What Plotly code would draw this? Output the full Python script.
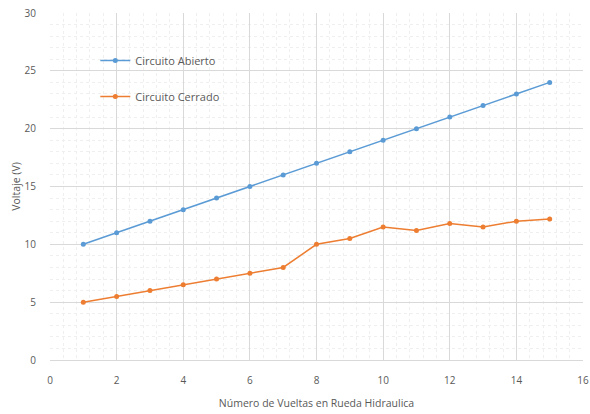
import plotly.graph_objects as go

vueltas = list(range(1, 16))
abierto = [10, 11, 12, 13, 14, 15, 16, 17, 18, 19, 20, 21, 22, 23, 24]
cerrado = [5, 5.5, 6, 6.5, 7, 7.5, 8, 10, 10.5, 11.5, 11.2, 11.8, 11.5, 12, 12.2]

fig = go.Figure()
fig.add_trace(go.Scatter(x=vueltas, y=abierto, mode="lines+markers", name="Circuito Abierto",
                         legendgroup="a",
                         line=dict(color="#5B9BD5", width=1.5),
                         marker=dict(color="#5B9BD5", size=5)))
fig.add_trace(go.Scatter(x=vueltas, y=cerrado, mode="lines+markers", name="Circuito Cerrado",
                         legendgroup="b",
                         line=dict(color="#ED7D31", width=1.5),
                         marker=dict(color="#ED7D31", size=5)))

tick_font = dict(family="Open Sans, sans-serif", size=10, color="#595959")
title_font = dict(family="Open Sans, sans-serif", size=10.5, color="#595959")
fig.update_layout(
    width=590, height=414,
    margin=dict(l=50, r=7, t=13, b=54),
    plot_bgcolor="white", paper_bgcolor="white",
    showlegend=True,
    legend=dict(x=0.085, y=0.905, xanchor="left", yanchor="top",
                bgcolor="rgba(0,0,0,0)", font=dict(family="Open Sans, sans-serif", size=11, color="#595959"),
                traceorder="grouped", tracegroupgap=17),
    xaxis=dict(range=[0, 16], dtick=2, tick0=0, showgrid=True, gridcolor="#D9D9D9", gridwidth=1,
               minor=dict(dtick=0.4, showgrid=True, gridcolor="#EFEFEF", griddash="dot"),
               zeroline=False, showline=True, linecolor="#D9D9D9", ticks="",
               tickfont=tick_font, automargin=False, ticklabelstandoff=11, ticklabeloverflow="allow",
               title=dict(text="Número de Vueltas en Rueda Hidraulica", font=title_font, standoff=13)),
    yaxis=dict(range=[0, 30], dtick=5, tick0=0, showgrid=True, gridcolor="#D9D9D9", gridwidth=1,
               minor=dict(dtick=1, showgrid=True, gridcolor="#EFEFEF", griddash="dot"),
               zeroline=False, showline=False, ticks="",
               tickfont=tick_font, automargin=False, ticklabelstandoff=13, ticklabeloverflow="allow",
               title=dict(text="Voltaje (V)", font=title_font, standoff=1)),
)

fig.write_html("out.html", config={"displayModeBar": False},
               post_script="document.body.style.margin='0';document.body.style.overflow='hidden';")
